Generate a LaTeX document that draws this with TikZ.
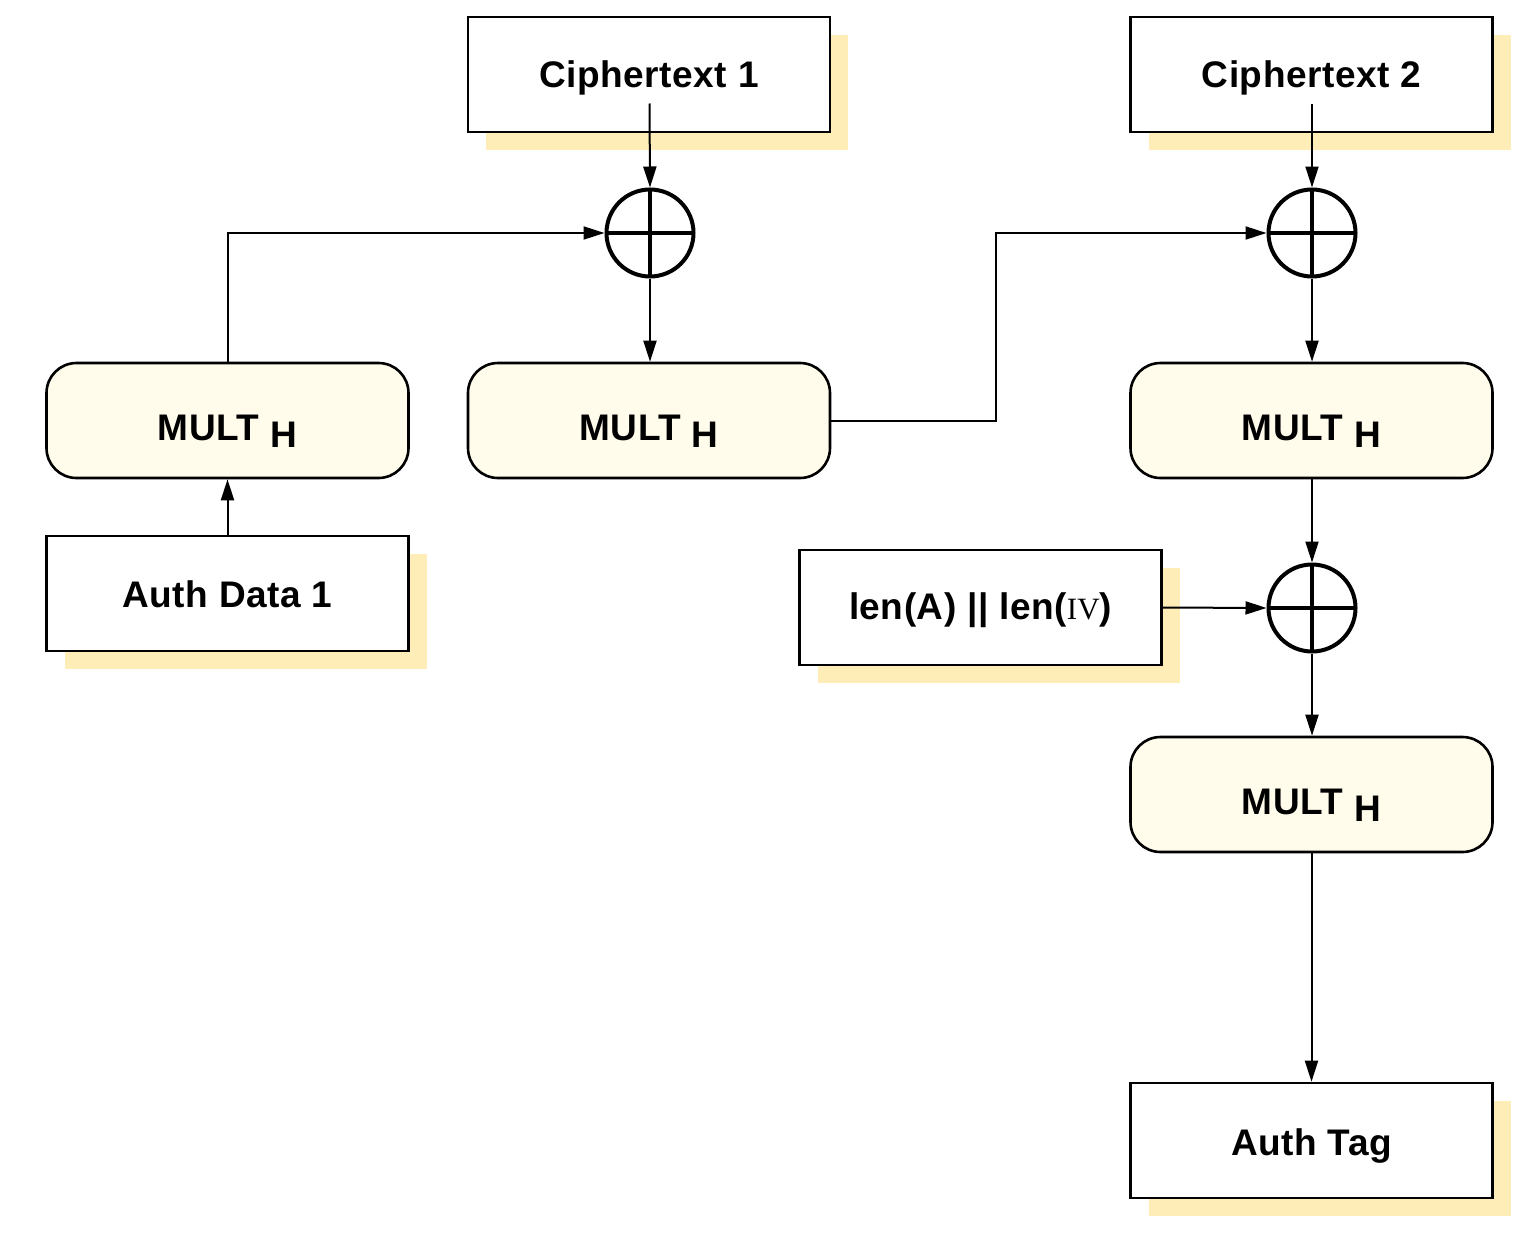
\documentclass[tikz,border=0pt]{standalone}
\usepackage{fontspec}
\setmainfont{Liberation Sans}[LetterSpace=1.5]
\newfontfamily\ivfont{Liberation Serif}
\usetikzlibrary{arrows.meta,calc,shadows}
\definecolor{shadowc}{HTML}{FFEDB8}
\definecolor{multfill}{HTML}{FFFCEB}
\begin{document}
\begin{tikzpicture}[x=1pt,y=-1pt,
  box/.style={draw=black, line width=2.6pt, minimum width=362pt, minimum height=115pt,
    inner sep=0pt, fill=white, text depth=0pt, text height=27pt,
    font=\bfseries\fontsize{37}{40}\selectfont},
  sbox/.style={box, drop shadow={shadow xshift=18pt, shadow yshift=-18pt, fill=shadowc, opacity=1, draw=none}},
  mult/.style={box, rounded corners=30pt, fill=multfill, text height=39pt},
  xor/.style={circle, draw=black, line width=4pt, minimum size=87pt, inner sep=0pt,
    path picture={\draw[line width=4pt] (path picture bounding box.north) -- (path picture bounding box.south)
      (path picture bounding box.west) -- (path picture bounding box.east);}},
  conn/.style={line width=2pt},
  arr/.style={conn, -{Triangle[length=21pt,width=13pt]}}]
\useasboundingbox (0,0) rectangle (1537,1242);
% nodes
\node[sbox, text height=25pt] (c1) at (649,74.5) {Ciphertext 1};
\node[sbox, text height=25pt] (c2) at (1311.5,74.5) {Ciphertext 2};
\node[xor] (x1) at (650,233) {};
\node[xor] (x2) at (1312,233) {};
\node[mult] (m1) at (227.5,420.5) {MULT \raisebox{-7.5pt}{H}};
\node[mult] (m2) at (649,420.5) {MULT \raisebox{-7.5pt}{H}};
\node[mult] (m3) at (1311.5,420.5) {MULT \raisebox{-7.5pt}{H}};
\node[sbox, text height=27pt] (ad) at (227.5,593.5) {Auth Data 1};
\node[sbox, text height=24pt] (len) at (980.5,607.5) {len(A) || len({\ivfont\mdseries\fontsize{31}{33}\selectfont IV})};
\node[xor] (x3) at (1312,608) {};
\node[mult] (m4) at (1311.5,794.5) {MULT \raisebox{-7.5pt}{H}};
\node[sbox, text height=29pt] (tag) at (1311.5,1140.5) {Auth Tag};
% connectors
\draw[arr] ($(c1.center)+(0.5,29)$) -- (x1.north);
\draw[arr] ($(c2.center)+(0.5,29)$) -- (x2.north);
\draw[arr] (m1.north) |- (x1.west);
\draw[arr] (ad.north) -- (m1.south);
\draw[arr] (x1.south) -- (m2.north -| x1.south);
\draw[arr] (m2.east) -- ++(165,0) |- (x2.west);
\draw[arr] (x2.south) -- (m3.north -| x2.south);
\draw[arr] (m3.south -| x3.north) -- (x3.north);
\draw[arr] (len.east) -- (x3.west);
\draw[arr] (x3.south) -- (m4.north -| x3.south);
\draw[arr] (m4.south -| tag.north) -- (tag.north);
\end{tikzpicture}
\end{document}
